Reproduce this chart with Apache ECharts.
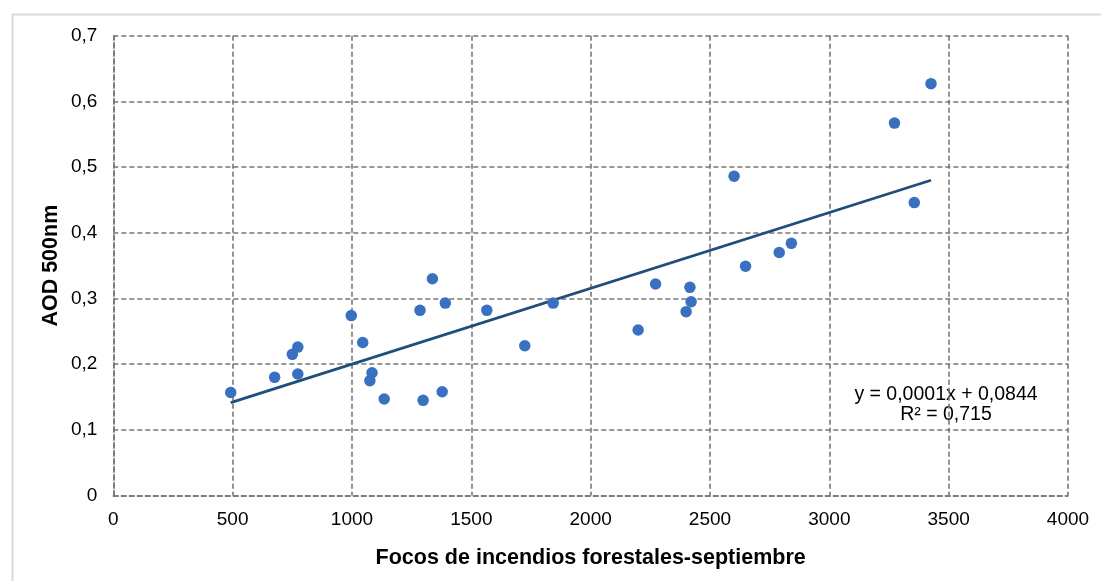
<!DOCTYPE html>
<html>
<head>
<meta charset="utf-8">
<script src="https://cdn.jsdelivr.net/npm/echarts@6/dist/echarts.min.js"></script>
<style>
html,body{margin:0;padding:0;background:#fff;}
#c{width:1101px;height:581px;}
</style>
</head>
<body>
<div id="c"></div>
<script>
// Data
var focos = [492, 676, 750, 773, 773, 997, 1045, 1084, 1075, 1135, 1285, 1298, 1337, 1378, 1391, 1565,
             1724, 1843, 2199, 2272, 2400, 2421, 2416, 2601, 2649, 2790, 2841, 3273, 3356, 3426];
var aod = [0.157, 0.180, 0.215, 0.226, 0.185, 0.274, 0.233, 0.187, 0.175, 0.147, 0.282, 0.145, 0.330, 0.158, 0.293, 0.282,
           0.228, 0.293, 0.252, 0.322, 0.280, 0.295, 0.317, 0.486, 0.349, 0.370, 0.384, 0.567, 0.446, 0.627];
var trendX = [492, 3426];
var trendY = [0.1414, 0.480];
var equationLines = ['y = 0,0001x + 0,0844', 'R² = 0,715'];
var xTitle = 'Focos de incendios forestales-septiembre';
var yTitle = 'AOD 500nm';

var points = focos.map(function (x, i) { return [x, aod[i]]; });
var trend = trendX.map(function (x, i) { return [x, trendY[i]]; });

var gridColor = '#767676';
var font = 'Liberation Sans, Arial, sans-serif';
var dash = {color: gridColor, type: [5, 3], width: 1.6};

var chart = echarts.init(document.getElementById('c'), null, {renderer: 'canvas'});
chart.setOption({
  animation: false,
  backgroundColor: '#fff',
  grid: {left: 113.3, right: 33, top: 35.7, bottom: 85.4, containLabel: false},
  xAxis: {
    type: 'value', min: 0, max: 4000, interval: 500,
    name: xTitle, nameLocation: 'middle', nameGap: 51, nameMoveOverlap: false,
    nameTextStyle: {fontFamily: font, fontSize: 21.5, fontWeight: 'bold', color: '#000'},
    axisLine: {show: true, lineStyle: dash},
    axisTick: {show: false},
    axisLabel: {fontFamily: font, fontSize: 19, color: '#000', margin: 15,
      formatter: function (v) { return String(v); }},
    splitLine: {show: true, lineStyle: dash}
  },
  yAxis: {
    type: 'value', min: 0, max: 0.7, interval: 0.1,
    name: yTitle, nameLocation: 'middle', nameGap: 51, nameRotate: 90, nameMoveOverlap: false,
    nameTextStyle: {fontFamily: font, fontSize: 21.5, fontWeight: 'bold', color: '#000'},
    axisLine: {show: true, lineStyle: dash},
    axisTick: {show: false},
    axisLabel: {
      fontFamily: font, fontSize: 19, color: '#000', margin: 16,
      formatter: function (v) { return String(+v.toFixed(1)).replace('.', ','); }
    },
    splitLine: {show: true, lineStyle: dash}
  },
  series: [
    {
      type: 'line', data: trend, symbol: 'none', silent: true,
      lineStyle: {color: '#1F4E79', width: 2.8}, z: 2
    },
    {
      type: 'scatter', data: points, symbol: 'circle', symbolSize: 11.5,
      itemStyle: {color: '#3A70C0', opacity: 1}, z: 3
    }
  ],
  graphic: [
    {
      type: 'rect', left: 10, top: 12, silent: true,
      shape: {x: 0, y: 0, width: 1200, height: 700},
      style: {fill: 'none', stroke: '#d9d9d9', lineWidth: 2}
    },
    {
      type: 'text', x: 946, y: 385, silent: true,
      style: {
        text: equationLines.join('\n'), fill: '#000', align: 'center', verticalAlign: 'top',
        font: '19.5px ' + font, lineHeight: 20
      }
    }
  ]
});
</script>
</body>
</html>
